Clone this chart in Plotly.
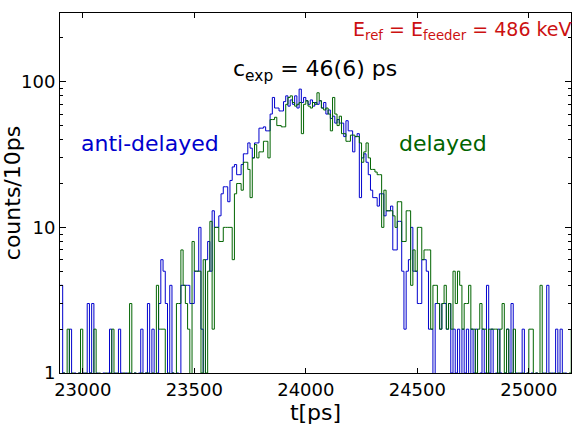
import numpy as np
import plotly.graph_objects as go

# histogram: 10 ps bins starting at 22900 ps
bin_start = 22900
bin_width = 10

anti_delayed = [
    4, 1, 0, 0, 2, 0, 1, 0, 1, 0,
    1, 0, 3, 1, 3, 0, 1, 0, 0, 1,
    0, 1, 2, 0, 1, 0, 2, 1, 0, 1,
    0, 1, 0, 1, 0, 1, 2, 0, 1, 3,
    0, 2, 0, 1, 3, 6, 5, 3, 0, 4,
    1, 0, 1, 0, 4, 4, 4, 4, 3, 3,
    5, 5, 10, 2, 0, 6, 8, 5, 13, 10,
    10, 12, 17, 19, 19, 15, 21, 26, 27, 23,
    23, 27, 32, 32, 38, 35, 30, 38, 38, 48,
    48, 49, 46, 46, 60, 78, 66, 66, 63, 63,
    73, 80, 68, 75, 70, 80, 66, 89, 72, 78,
    74, 70, 75, 68, 72, 70, 74, 66, 72, 60,
    64, 56, 58, 52, 55, 52, 52, 42, 54, 46,
    46, 33, 42, 44, 16, 30, 32, 28, 23, 18,
    16, 16, 14, 17, 17, 12, 13, 13, 14, 7,
    7, 11, 11, 5, 2, 5, 6, 10, 5, 5,
    3, 3, 6, 6, 5, 2, 2, 0, 3, 3,
    2, 3, 3, 2, 3, 1, 2, 1, 2, 0,
    2, 1, 2, 0, 2, 1, 2, 0, 1, 2,
    1, 4, 1, 2, 0, 1, 2, 1, 0, 1,
    2, 1, 3, 0, 1, 0, 1, 2, 0, 1,
    0, 1, 0, 1, 0, 0, 1, 0, 4, 0,
    1, 0, 2, 0, 2, 0, 1, 0, 0, 1,
]

delayed = [
    0, 1, 0, 2, 0, 1, 0, 0, 1, 2,
    0, 1, 0, 1, 0, 2, 0, 1, 0, 0,
    1, 0, 1, 2, 0, 1, 0, 0, 1, 0,
    1, 3, 0, 1, 0, 0, 1, 0, 1, 1,
    0, 1, 0, 4, 2, 2, 2, 0, 1, 0,
    1, 0, 3, 3, 7, 4, 3, 2, 0, 8,
    5, 5, 5, 1, 6, 1, 5, 11, 2, 10,
    10, 8, 8, 10, 10, 10, 10, 6, 17, 20,
    20, 18, 28, 28, 25, 16, 30, 37, 30, 33,
    33, 39, 39, 30, 55, 55, 57, 50, 50, 49,
    49, 70, 78, 80, 72, 68, 70, 72, 44, 70,
    74, 68, 66, 72, 70, 84, 74, 66, 64, 66,
    60, 46, 78, 60, 50, 58, 44, 44, 39, 39,
    43, 43, 42, 42, 38, 28, 33, 38, 30, 25,
    25, 24, 23, 23, 10, 18, 13, 13, 13, 12,
    10, 15, 15, 8, 8, 13, 13, 4, 7, 5,
    10, 10, 6, 7, 7, 7, 2, 4, 4, 3,
    2, 3, 4, 2, 3, 2, 5, 3, 5, 4,
    2, 3, 3, 4, 2, 2, 1, 2, 3, 2,
    2, 1, 2, 2, 2, 2, 1, 2, 3, 1,
    2, 0, 1, 2, 0, 1, 0, 1, 0, 1,
    2, 2, 0, 1, 0, 4, 0, 1, 0, 1,
    0, 1, 0, 1, 0, 1, 0, 0, 1, 2,
]

x_ticks = [23000, 23500, 24000, 24500, 25000]
x_ticktext = ["23000", "23500", "24000", "24500", "25000"]
y_ticks = [1, 10, 100]
y_ticktext = ["1", "10", "100"]
y_minor = [2, 3, 4, 5, 6, 7, 8, 9, 20, 30, 40, 50, 60, 70, 80, 90, 200, 300]

BLUE = "#0000CD"
GREEN = "#006400"
RED = "#CC1111"
FONT = "DejaVu Sans"


def step_xy(counts):
    n = len(counts)
    edges = bin_start + bin_width * np.arange(n + 1)
    vals = [c if c > 0 else 0.05 for c in counts]  # zero bins drop below axis
    return edges, vals + [vals[-1]]


fig = go.Figure()
for counts, col, name in [(anti_delayed, BLUE, "anti-delayed"), (delayed, GREEN, "delayed")]:
    ex, ey = step_xy(counts)
    fig.add_trace(go.Scatter(x=ex, y=ey, mode="lines", line=dict(color=col, width=1, shape="hv"),
                             name=name, showlegend=False, hoverinfo="skip"))

fig.update_layout(
    width=573, height=428,
    margin=dict(l=60, r=2, t=13, b=55, autoexpand=False),
    plot_bgcolor="white", paper_bgcolor="white",
    font=dict(family=FONT, size=18, color="black"),
)
fig.update_xaxes(
    range=[22898, 25189], tickvals=x_ticks, ticktext=x_ticktext, ticks="inside", ticklen=5,
    tickcolor="black", automargin=False,
    showline=True, linecolor="black", linewidth=1, mirror="ticks", showgrid=False, zeroline=False,
    title=dict(text="t[ps]", font=dict(size=22), standoff=6),
)
fig.update_yaxes(
    type="log", range=[0, 2.472], tickvals=y_ticks, ticktext=y_ticktext,
    ticks="inside", ticklen=6, tickcolor="black", automargin=False,
    minor=dict(tickvals=y_minor, ticks="inside", ticklen=3, tickcolor="black", showgrid=False),
    showline=True, linecolor="black", linewidth=1, mirror="ticks", showgrid=False, zeroline=False,
    title=dict(text="counts/10ps", font=dict(size=22), standoff=1),
)

W = 511.5
H = 360.6
def px(x):
    return (x - 60) / W
def py(y):
    return (373.3 - y) / H

fig.add_annotation(text="anti-delayed", x=px(79), y=py(143), xref="paper", yref="paper",
                   xanchor="left", yanchor="middle", showarrow=False, font=dict(size=22, color=BLUE))
fig.add_annotation(text="delayed", x=px(397), y=py(143), xref="paper", yref="paper",
                   xanchor="left", yanchor="middle", showarrow=False, font=dict(size=22, color=GREEN))
fig.add_annotation(text="c<sub>exp</sub> = 46(6) ps", x=px(231), y=py(70), xref="paper", yref="paper",
                   xanchor="left", yanchor="middle", showarrow=False, font=dict(size=22, color="black"))
fig.add_annotation(text="E<sub>ref</sub> = E<sub>feeder</sub> = 486 keV", x=px(351), y=py(30),
                   xref="paper", yref="paper", xanchor="left", yanchor="middle", showarrow=False,
                   font=dict(size=19, color=RED))

fig.write_html("out.html", config={"displayModeBar": False},
               post_script="document.body.style.margin='0';document.body.style.overflow='hidden';")
